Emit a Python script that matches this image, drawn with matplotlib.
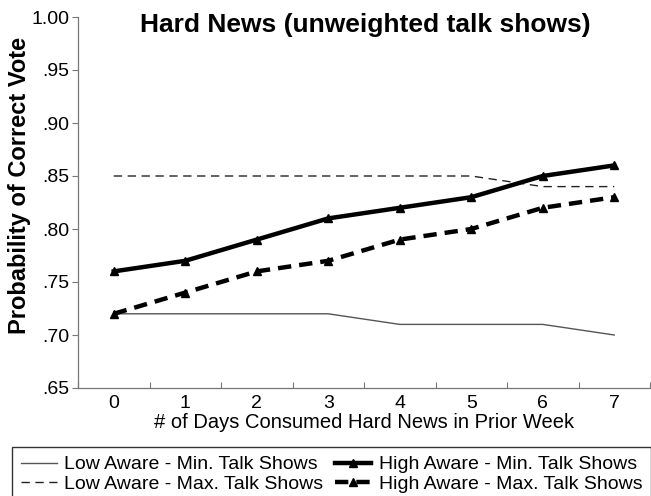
import matplotlib
matplotlib.use("Agg")
import matplotlib.pyplot as plt
from matplotlib.ticker import FixedLocator

plt.rcParams['font.family'] = ['Liberation Sans', 'DejaVu Sans']

days = [0, 1, 2, 3, 4, 5, 6, 7]
low_min = [.72, .72, .72, .72, .71, .71, .71, .70]
low_max = [.85, .85, .85, .85, .85, .85, .84, .84]
high_min = [.76, .77, .79, .81, .82, .83, .85, .86]
high_max = [.72, .74, .76, .77, .79, .80, .82, .83]
yticks = [.65, .70, .75, .80, .85, .90, .95, 1.00]
ytick_labels = ['.65', '.70', '.75', '.80', '.85', '.90', '.95', '1.00']

fig = plt.figure(figsize=(6.51, 4.96), dpi=100)
ax = fig.add_axes([78/651, 1-388/496, 572/651, (388-17)/496])

l1, = ax.plot(days, low_min, color='#555555', lw=1.0, label='Low Aware - Min. Talk Shows')
l2, = ax.plot(days, low_max, color='#222222', lw=1.0, ls=(0, (6, 4)), label='Low Aware - Max. Talk Shows')
l3, = ax.plot(days, high_min, color='black', lw=3.2, marker='^', ms=5.5, label='High Aware - Min. Talk Shows')
l4, = ax.plot(days, high_max, color='black', lw=3.2, ls=(0, (3, 1.8)), marker='^', ms=5.5,
              label='High Aware - Max. Talk Shows')

ax.set_xlim(-0.5, 7.5)
ax.set_ylim(0.65, 1.00)
ax.set_yticks(yticks)
ax.set_yticklabels(ytick_labels, fontsize=14)
ax.set_xticks(days)
ax.set_xticklabels([str(d) for d in days], fontsize=14)
ax.xaxis.set_minor_locator(FixedLocator([x - 0.5 for x in days] + [7.5]))
ax.tick_params(axis='x', which='major', length=0, pad=5)
ax.tick_params(axis='x', which='minor', length=4, direction='in', width=0.8, color='#777777')
ax.tick_params(axis='y', length=4, direction='out', width=0.8, color='#777777', pad=2)
for s in ['top', 'right']:
    ax.spines[s].set_visible(False)
for s in ['left', 'bottom']:
    ax.spines[s].set_color('#777777')
    ax.spines[s].set_linewidth(0.9)

ax.set_xlabel('# of Days Consumed Hard News in Prior Week', fontsize=14.5, labelpad=1)
ax.set_ylabel('Probability of Correct Vote', fontsize=17, fontweight='bold')
ax.yaxis.set_label_coords(-(78 - 31) / 572, (388 - 185) / 371)
ax.set_title('Hard News (unweighted talk shows)', fontsize=19, fontweight='bold', x=0.503, y=0.9365)

leg = fig.legend(handles=[l1, l2, l3, l4], loc='upper left', bbox_to_anchor=(12/651, 1-447/496),
                 ncol=2, fontsize=14, frameon=True, fancybox=False, edgecolor='black',
                 handlelength=1.85, handletextpad=0.4, columnspacing=0.6, borderpad=0.45,
                 labelspacing=0.08, borderaxespad=0)
leg.get_frame().set_linewidth(1.0)

fig.savefig('out.png', dpi=100)
